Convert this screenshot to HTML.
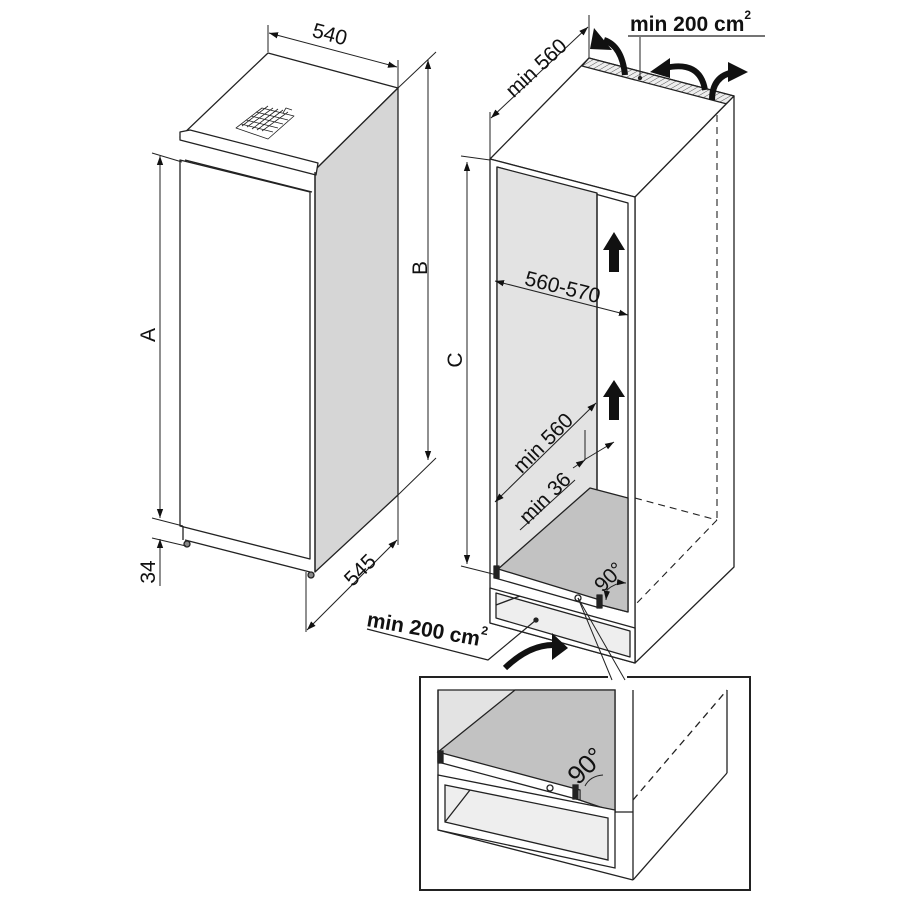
<!DOCTYPE html>
<html><head><meta charset="utf-8"><style>html,body{margin:0;padding:0;background:#fff}svg{display:block}text{font-family:"Liberation Sans",sans-serif;fill:#111}</style></head><body>
<svg width="900" height="900" viewBox="0 0 900 900" xmlns="http://www.w3.org/2000/svg">
<defs>
<marker id="a" viewBox="0 0 10 10" refX="10" refY="5" markerWidth="9" markerHeight="9" orient="auto-start-reverse" markerUnits="userSpaceOnUse"><path d="M0,1.5 L10,5 L0,8.5 z" fill="#111"/></marker>
<pattern id="h" width="4" height="4" patternUnits="userSpaceOnUse" patternTransform="rotate(60)"><rect width="4" height="4" fill="#eee"/><line x1="0" y1="0" x2="0" y2="4" stroke="#555" stroke-width="1"/></pattern>
</defs>
<g stroke="#222" stroke-width="1.3" fill="none" stroke-linejoin="round">
<polygon points="268,53 398,88 315,170 180,137" fill="#fff"/>
<polygon points="315,170 398,88 398,495 315,572" fill="#d6d6d6"/>
<polygon points="180,132 190,130 318,163 316,175 180,140" fill="#fff"/>
<polygon points="180,160 310,192 310,559 180,526" fill="#fff"/>
<line x1="185" y1="160" x2="312" y2="192"/>
<line x1="315" y1="172" x2="315" y2="572"/>
<line x1="183" y1="526" x2="183" y2="540"/>
<line x1="185" y1="540" x2="310" y2="572"/>
<circle cx="187" cy="544" r="3" fill="#888"/><circle cx="311" cy="575" r="3" fill="#888"/>
<g stroke-width="0.8"><polygon points="236,128 262,108 294,116 268,139" fill="#fff"/>
<path d="M241,124 L273,132 M246,120 L278,128 M251,116 L283,124 M256,112 L288,120 M242,126 L268,106 M247,127 L273,108 M252,129 L278,109 M257,130 L283,110 M262,131 L288,112"/>
<path d="M283,113 L286,108 L292,110"/></g>
<line x1="268" y1="25" x2="268" y2="52" stroke-width="1"/><line x1="398" y1="60" x2="398" y2="88" stroke-width="1"/>
<line x1="269" y1="33" x2="397" y2="67" stroke-width="1" marker-start="url(#a)" marker-end="url(#a)"/>
<line x1="152" y1="153" x2="182" y2="162" stroke-width="1"/>
<line x1="160" y1="156" x2="160" y2="518" stroke-width="1" marker-start="url(#a)" marker-end="url(#a)"/>
<line x1="152" y1="518" x2="183" y2="526" stroke-width="1"/>
<line x1="152" y1="538" x2="186" y2="546" stroke-width="1"/>
<line x1="160" y1="539" x2="160" y2="586" stroke-width="1" marker-start="url(#a)"/>
<line x1="398" y1="88" x2="436" y2="52" stroke-width="1"/>
<line x1="428" y1="60" x2="428" y2="460" stroke-width="1" marker-start="url(#a)" marker-end="url(#a)"/>
<line x1="398" y1="495" x2="436" y2="458" stroke-width="1"/>
<line x1="306" y1="572" x2="306" y2="632" stroke-width="1"/><line x1="398" y1="495" x2="398" y2="545" stroke-width="1"/>
<line x1="307" y1="630" x2="397" y2="540" stroke-width="1" marker-start="url(#a)" marker-end="url(#a)"/>

<polygon points="490,159 589,58 734,96 635,197" fill="#fff"/>
<polygon points="589,58 734,96 727,104 582,66" fill="url(#h)"/>
<polygon points="635,197 734,96 734,567 635,663" fill="#fff"/>
<polygon points="490,159 635,197 635,663 490,623" fill="#fff"/>
<polygon points="497,167 628,203 628,612 497,578" fill="#fff"/>
<polygon points="497,167 597,193 597,490 497,570" fill="#e3e3e3"/>
<line x1="597" y1="193" x2="597" y2="490"/>
<polygon points="497,570 590,488 628,498 628,612 497,578" fill="#c2c2c2"/>
<polygon points="495,568 600,600 600,608 495,578" fill="#fff"/>
<rect x="494" y="566" width="5" height="12" fill="#222"/><rect x="597" y="595" width="5" height="13" fill="#222"/>
<circle cx="578" cy="598" r="3" fill="#fff"/>
<polygon points="490,588 635,628 635,663 490,623" fill="#fff"/>
<polygon points="496,593 630,631 630,657 496,618" fill="#eee"/>
<line x1="496" y1="605" x2="520" y2="596"/>
<g stroke-dasharray="7,5" stroke-width="1.1"><line x1="717" y1="115" x2="717" y2="520"/><line x1="635" y1="498" x2="717" y2="520"/><line x1="717" y1="520" x2="635" y2="605"/></g>
<line x1="461" y1="156" x2="490" y2="160" stroke-width="1"/>
<line x1="467" y1="162" x2="467" y2="564" stroke-width="1" marker-start="url(#a)" marker-end="url(#a)"/>
<line x1="461" y1="566" x2="497" y2="575" stroke-width="1"/>
<line x1="490" y1="112" x2="490" y2="159" stroke-width="1"/><line x1="589" y1="15" x2="589" y2="58" stroke-width="1"/>
<line x1="491" y1="118" x2="588" y2="27" stroke-width="1" marker-start="url(#a)" marker-end="url(#a)"/>
<line x1="495" y1="281" x2="628" y2="315" stroke-width="1" marker-start="url(#a)" marker-end="url(#a)"/>
<line x1="495" y1="502" x2="596" y2="403" stroke-width="1" marker-start="url(#a)" marker-end="url(#a)"/>
<line x1="584" y1="460" x2="614" y2="442" stroke-width="1" marker-end="url(#a)"/>
<line x1="585" y1="460" x2="573" y2="468" stroke-width="1" marker-start="url(#a)"/>
<line x1="585" y1="460" x2="585" y2="430" stroke-width="1"/>
<line x1="520" y1="530" x2="575" y2="480" stroke-width="1"/>
<line x1="578" y1="598" x2="612" y2="680" stroke-width="1"/><line x1="578" y1="598" x2="625" y2="680" stroke-width="1"/>
<path d="M628,36 L765,36" stroke-width="1.2"/><path d="M640,37 L640,78" stroke-width="1"/><circle cx="640" cy="78" r="1.5" fill="#222"/>
<path d="M367,629 L488,660 L536,620" stroke-width="1.2"/><circle cx="536" cy="620" r="2" fill="#222"/>
<path d="M607,590 Q616,582 626,583" stroke-width="1" marker-end="url(#a)"/><path d="M607,590 L606,600" stroke-width="1" marker-end="url(#a)"/>
</g>
<g fill="#111">
<polygon points="609,272 609,250 603,250 614,232 625,250 619,250 619,272"/>
<polygon points="609,420 609,397 603,397 614,380 625,397 619,397 619,420"/>
</g>
<g stroke="#111" stroke-width="6" fill="none" stroke-linecap="butt">
<path d="M625,75 Q622,46 604,40"/>
<path d="M705,90 Q700,60 665,68"/>
<path d="M712,100 Q712,76 734,72"/>
<path d="M505,668 Q530,644 555,645"/>
</g>
<g fill="#111">
<polygon points="594,28 612,50 590,49"/>
<polygon points="650,72 670,58 670,78"/>
<polygon points="728,62 748,72 728,82"/>
<polygon points="552,633 568,648 552,660"/>
</g>
<g font-size="21">
<text transform="translate(328,41) rotate(15)" text-anchor="middle">540</text>
<text transform="translate(155,335) rotate(-90)" text-anchor="middle">A</text>
<text transform="translate(427,268) rotate(-90)" text-anchor="middle">B</text>
<text transform="translate(155,572) rotate(-90)" text-anchor="middle">34</text>
<text transform="translate(365,575) rotate(-45)" text-anchor="middle">545</text>
<text transform="translate(462,360) rotate(-90)" text-anchor="middle">C</text>
<text transform="translate(541,73) rotate(-43)" text-anchor="middle">min 560</text>
<text transform="translate(561,294) rotate(14)" text-anchor="middle">560-570</text>
<text transform="translate(548,448) rotate(-45)" text-anchor="middle">min 560</text>
<text transform="translate(550,503) rotate(-45)" text-anchor="middle">min 36</text>
<text transform="translate(614,582) rotate(-45)" text-anchor="middle">90°</text>
</g>
<g font-size="21" font-weight="bold">
<text x="630" y="31">min 200 cm<tspan font-size="12" dy="-12">2</tspan></text>
<text transform="translate(366,626) rotate(10)">min 200 cm<tspan font-size="12" dy="-12">2</tspan></text>
</g>
<polyline points="608,677 420,677 420,890 750,890 750,677 627,677" fill="none" stroke="#222" stroke-width="2"/>
<g stroke="#222" stroke-width="1.3" fill="none">
<polygon points="438,690 615,690 615,812 438,752" fill="#e3e3e3"/>
<polygon points="438,752 515,690 615,690 615,812" fill="#c2c2c2"/>
<polygon points="438,752 580,790 580,800 438,762" fill="#fff"/>
<rect x="438" y="751" width="5" height="12" fill="#222"/><rect x="573" y="785" width="5" height="14" fill="#222"/>
<circle cx="550" cy="788" r="3" fill="#fff"/>
<line x1="438" y1="690" x2="438" y2="830"/>
<line x1="633" y1="690" x2="633" y2="880"/>
<line x1="633" y1="880" x2="727" y2="773"/><line x1="727" y1="690" x2="727" y2="773"/>
<line x1="615" y1="812" x2="633" y2="812"/>
<polygon points="438,775 615,810 615,868 438,830" fill="#fff"/>
<polygon points="445,785 608,818 608,860 445,822" fill="#eee"/>
<line x1="445" y1="822" x2="470" y2="790"/>
<line x1="438" y1="830" x2="633" y2="880"/>
<line x1="633" y1="800" x2="727" y2="690" stroke-dasharray="7,5"/>
<path d="M585,786 Q590,776 603,775" stroke-width="1"/>
</g>
<text transform="translate(592,772) rotate(-45)" text-anchor="middle" font-size="26">90°</text>
</svg>
</body></html>
